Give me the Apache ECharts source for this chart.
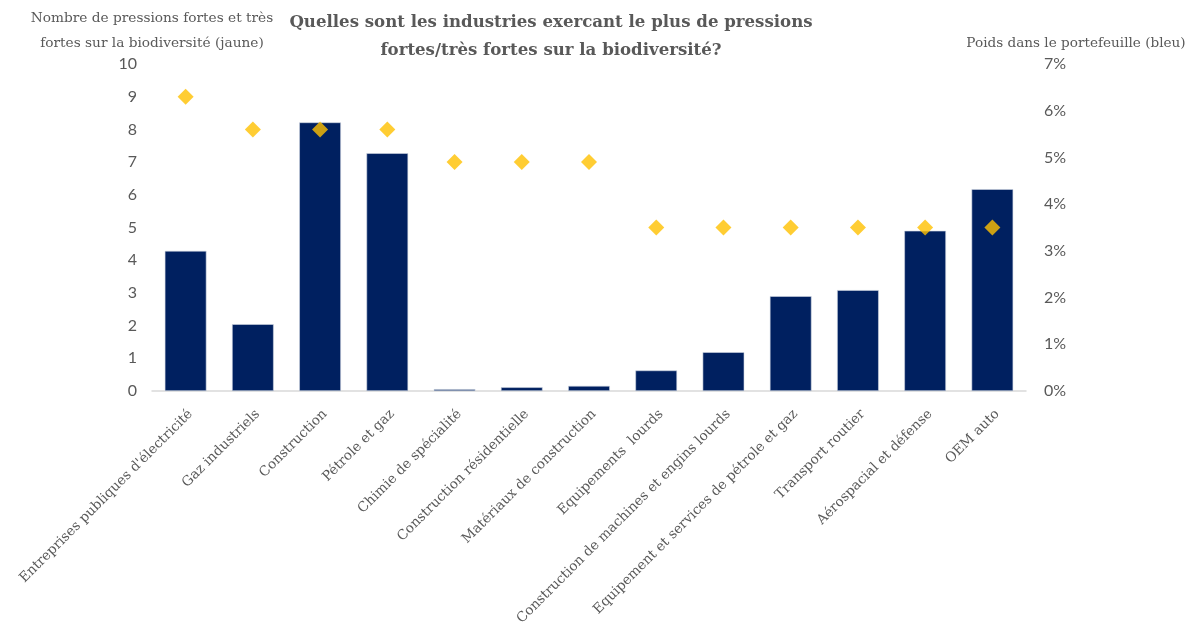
<!DOCTYPE html>
<html><head><meta charset="utf-8">
<script src="https://cdn.jsdelivr.net/npm/echarts@6/dist/echarts.min.js"></script>
<style>html,body{margin:0;padding:0;background:#fff}#c{width:1190px;height:623px}</style>
</head><body><div id="c"></div>
<script>
const categories = ["Entreprises publiques d'électricité","Gaz industriels","Construction","Pétrole et gaz","Chimie de spécialité","Construction résidentielle","Matériaux de construction","Equipements  lourds","Construction de machines et engins lourds","Equipement et services de pétrole et gaz","Transport routier","Aérospacial et défense","OEM auto"];
const weights = [3.0, 1.43, 5.75, 5.09, 0.04, 0.08, 0.11, 0.44, 0.83, 2.03, 2.16, 3.43, 4.32];
const pressures = [9, 8, 8, 8, 7, 7, 7, 5, 5, 5, 5, 5, 5];
const titleText = "Quelles sont les industries exercant le plus de pressions\nfortes/très fortes sur la biodiversité?";
const leftName = "Nombre de pressions fortes et très\nfortes sur la biodiversité (jaune)";
const rightName = "Poids dans le portefeuille (bleu)";

const grey = '#595959';
const serif = '"DejaVu Serif", "Liberation Serif", serif';
const sans = 'Lato, "Liberation Sans", sans-serif';
const chart = echarts.init(document.getElementById('c'));
chart.setOption({
  animation: false,
  graphic: [{
    type: 'text', x: 551, y: 9,
    style: { text: titleText, fill: grey, font: 'bold 16.6px ' + serif, textAlign: 'center', lineHeight: 28 }
  }],
  grid: { left: 152, right: 164, top: 64, bottom: 232, outerBoundsMode: 'none', containLabel: false },
  xAxis: {
    type: 'category', data: categories,
    axisLine: { lineStyle: { color: '#D9D9D9', width: 1.5 } },
    axisTick: { show: false },
    axisLabel: { rotate: 45, interval: 0, color: grey, fontFamily: serif, fontSize: 13.6, margin: 16, align: 'right', verticalAlign: 'top' }
  },
  yAxis: [{
    type: 'value', min: 0, max: 10, interval: 1, position: 'left',
    name: leftName, nameLocation: 'end', nameGap: 5,
    nameTextStyle: { color: grey, fontFamily: serif, fontSize: 13.7, align: 'center', verticalAlign: 'bottom', lineHeight: 25 },
    axisLine: { show: false }, axisTick: { show: false }, splitLine: { show: false },
    axisLabel: { color: grey, fontFamily: sans, fontSize: 16, margin: 15 }
  }, {
    type: 'value', min: 0, max: 7, interval: 1, position: 'right',
    name: rightName, nameLocation: 'end', nameGap: 14,
    nameTextStyle: { color: grey, fontFamily: serif, fontSize: 13.6, align: 'center', verticalAlign: 'bottom', padding: [0, 0, 0, 100] },
    axisLine: { show: false }, axisTick: { show: false }, splitLine: { show: false },
    axisLabel: { color: grey, fontFamily: sans, fontSize: 16, margin: 18, formatter: '{value}%' }
  }],
  series: [{
    type: 'bar', yAxisIndex: 1, data: weights, barCategoryGap: '38%',
    itemStyle: { color: '#002060', borderColor: '#D0D6E2', borderWidth: 0.6 }, z: 2
  }, {
    type: 'scatter', yAxisIndex: 0, data: pressures, symbol: 'diamond', symbolSize: [16, 16],
    itemStyle: { color: '#FFC000' }, z: 3
  }]
});
</script></body></html>
